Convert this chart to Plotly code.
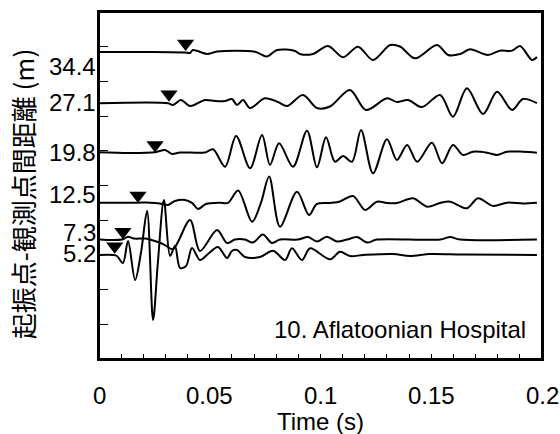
import plotly.graph_objects as go

# offsets (m) of each geophone from the source, and their labels
distances = [5.2, 7.3, 12.5, 19.8, 27.1, 34.4]
dist_labels = ["5.2", "7.3", "12.5", "19.8", "27.1", "34.4"]
# picked first arrivals (s), the black triangles
arrivals = [0.0071, 0.0108, 0.0176, 0.0253, 0.0316, 0.0391]

# waveforms: time (s) and trace deflection (axis units)
t_5_2 = [0, 0.0063, 0.0081, 0.0108, 0.0131, 0.0163, 0.0190, 0.0217, 0.0244, 0.0266,
         0.0293, 0.0321, 0.0343, 0.0366, 0.0393, 0.0420, 0.0456, 0.0492, 0.0537, 0.0578,
         0.0600, 0.0623, 0.0659, 0.0727, 0.0786, 0.0840, 0.0871, 0.0916, 0.0953, 0.1043,
         0.1088, 0.1133, 0.1192, 0.1327, 0.1404, 0.1494, 0.1643, 0.1977]
a_5_2 = [-0.22, -0.22, -0.36, -1.37, 1.80, -3.82, 0.22, 6.12, -9.58, -1.22,
         7.71, -0.36, 1.08, -2.09, -1.80, 0.79, -0.94, -0.07, 0.94, -0.65,
         0.36, 0.50, -0.50, -0.50, 0.40, -0.94, 0.75, -0.94, 0.75, -0.84,
         0.26, -0.36, -0.22, -0.07, -0.36, -0.07, -0.14, -0.22]

t_7_3 = [0, 0.0104, 0.0131, 0.0158, 0.0208, 0.0230, 0.0266, 0.0298, 0.0334, 0.0411,
         0.0456, 0.0533, 0.0578, 0.0614, 0.0659, 0.0695, 0.0740, 0.0781, 0.0817, 0.0898,
         0.0944, 0.0984, 0.1029, 0.1074, 0.1120, 0.1165, 0.1210, 0.1255, 0.1540, 0.1585,
         0.1630, 0.1977]
a_7_3 = [-0.09, -0.09, 0.32, 0.06, 0.06, -0.09, -0.45, -0.88, -1.46, 2.72,
         -1.74, 1.28, -0.59, -0.09, -0.09, -0.52, 0.63, -0.59, -0.09, -0.09,
         0.27, -0.37, 0.32, -0.37, -0.09, 0.27, -0.52, -0.09, -0.09, 0.27,
         -0.09, -0.09]

t_12_5 = [0, 0.0176, 0.0230, 0.0275, 0.0312, 0.0343, 0.0388, 0.0420, 0.0447, 0.0483,
          0.0546, 0.0582, 0.0628, 0.0691, 0.0731, 0.0768, 0.0817, 0.0894, 0.0948, 0.0984,
          0.1043, 0.1088, 0.1147, 0.1201, 0.1255, 0.1300, 0.1345, 0.1418, 0.1481, 0.1540,
          0.1585, 0.1661, 0.1711, 0.1779, 0.1842, 0.1914, 0.1977]
a_12_5 = [0.03, 0.03, 0.03, -0.09, -0.30, 0.27, 0.42, -0.01, -0.88, -0.16,
          0.03, -0.01, 1.79, -2.71, -0.01, 3.80, -3.43, 1.61, -1.74, -0.16,
          -0.01, 0.20, 0.99, -1.02, 0.17, -0.01, -0.01, 0.66, -0.55, -0.01,
          0.17, -0.78, 0.66, -0.45, 0.03, -0.09, 0.03]

t_19_8 = [0, 0.0140, 0.0253, 0.0298, 0.0330, 0.0366, 0.0479, 0.0515, 0.0569, 0.0619,
          0.0682, 0.0736, 0.0772, 0.0813, 0.0876, 0.0939, 0.0984, 0.1025, 0.1065, 0.1102,
          0.1142, 0.1183, 0.1237, 0.1300, 0.1345, 0.1391, 0.1436, 0.1503, 0.1549, 0.1598,
          0.1643, 0.1689, 0.1752, 0.1797, 0.1842, 0.1914, 0.1977]
a_19_8 = [-0.01, -0.12, -0.01, 0.32, -0.26, -0.04, -0.04, 0.42, -2.09, 2.33,
          -2.32, 2.48, -1.84, 1.28, -2.09, 3.10, -2.18, 2.15, -1.37, -0.55,
          -1.37, 3.20, -3.04, 1.86, -1.12, 1.04, -1.37, 1.37, -1.60, 1.04,
          -0.40, 0.07, -0.07, -0.40, 0.07, 0.07, -0.07]

t_27_1 = [0, 0.0312, 0.0334, 0.0370, 0.0411, 0.0479, 0.0524, 0.0569, 0.0600, 0.0623,
          0.0650, 0.0682, 0.0749, 0.0808, 0.0849, 0.0921, 0.0984, 0.1043, 0.1133, 0.1205,
          0.1300, 0.1345, 0.1395, 0.1458, 0.1540, 0.1598, 0.1661, 0.1734, 0.1797, 0.1865,
          0.1914, 0.1977]
a_27_1 = [-0.26, -0.26, -0.50, 0.22, -0.65, 0.22, 0.07, 0.07, 0.36, -0.50,
          0.22, -0.94, 0.46, -0.07, -0.65, 0.94, -0.94, -0.72, 1.66, -1.22,
          0.46, -0.07, 0.22, -0.79, 0.94, -2.19, 1.90, -1.80, 1.41, -1.22,
          0.36, -0.22]

t_34_4 = [0, 0.0230, 0.0388, 0.0411, 0.0424, 0.0488, 0.0533, 0.0704, 0.0758, 0.0804,
          0.0885, 0.0907, 0.0966, 0.1034, 0.1102, 0.1169, 0.1237, 0.1314, 0.1359, 0.1427,
          0.1526, 0.1576, 0.1630, 0.1675, 0.1756, 0.1810, 0.1865, 0.1901, 0.1955, 0.1977]
a_34_4 = [-0.16, -0.16, -0.23, -0.30, 0.13, -0.45, -0.09, -0.12, -0.81, 0.13,
          -0.01, -0.45, -0.45, 0.71, -0.92, 0.61, -1.31, 0.85, 0.63, -1.07,
          0.85, -0.59, -0.45, 0.23, -0.59, 0.03, 0.03, 0.71, -1.31, -0.88]

waves = [(t_5_2, a_5_2), (t_7_3, a_7_3), (t_12_5, a_12_5),
         (t_19_8, a_19_8), (t_27_1, a_27_1), (t_34_4, a_34_4)]

x_tickvals = [0, 0.05, 0.1, 0.15, 0.2]
x_ticktext = ["0", "0.05", "0.1", "0.15", "0.2"]
x_minor = [i / 100 for i in range(21)]
y_ticks = list(range(-10, 41, 5))

FONT = "Arial, Liberation Sans, sans-serif"
MARK_LIFT = 1.05       # triangle sits just above its trace
label_shift = [0, 6, 8, 0, -1, -16]   # px nudges of the distance labels

fig = go.Figure()

for d, (t, a) in zip(distances, waves):
    fig.add_trace(go.Scatter(
        x=t, y=[d + v for v in a], mode="lines",
        line=dict(color="black", width=2, shape="spline", smoothing=0.9),
        hoverinfo="skip", showlegend=False))

fig.add_trace(go.Scatter(
    x=arrivals, y=[d + MARK_LIFT for d in distances], mode="markers",
    marker=dict(symbol="triangle-down", size=15, color="black"),
    showlegend=False))

# distance labels beside the traces
for d, lab, sh in zip(distances, dist_labels, label_shift):
    fig.add_annotation(x=0, xref="paper", y=d, yref="y", text=lab,
                       showarrow=False, xanchor="right", xshift=-1, yshift=sh,
                       font=dict(family=FONT, size=24, color="black"))

# time tick labels sit well below the axis
for v, lab in zip(x_tickvals, x_ticktext):
    fig.add_annotation(x=v, xref="x", y=0, yref="paper", text=lab,
                       showarrow=False, xanchor="center", yanchor="middle",
                       yshift=-36, font=dict(family=FONT, size=24, color="black"))

fig.add_annotation(x=0.968, xref="paper", y=0.084, yref="paper",
                   text="10. Aflatoonian Hospital", showarrow=False,
                   xanchor="right", yanchor="middle",
                   font=dict(family=FONT, size=24, color="black"))

fig.add_annotation(x=0.5, xref="paper", y=0, yref="paper",
                   text="Time (s)", showarrow=False,
                   xanchor="center", yanchor="middle", yshift=-62,
                   font=dict(family=FONT, size=24, color="black"))

fig.add_annotation(x=-0.172, xref="paper", y=0.477, yref="paper",
                   text="起振点-観測点間距離 (m)", textangle=-90, showarrow=False,
                   xanchor="center", yanchor="middle",
                   font=dict(family="Noto Sans CJK JP", size=26, color="black"))

# frame round the plot area
fig.add_shape(type="rect", xref="paper", yref="paper", x0=0, y0=0, x1=1, y1=1,
              line=dict(color="black", width=2), layer="above")

fig.update_layout(
    width=560, height=434,
    margin=dict(l=99, r=18, t=12, b=75, autoexpand=False),
    paper_bgcolor="white", plot_bgcolor="white",
    font=dict(family=FONT, size=24, color="black"),
    xaxis=dict(range=[0, 0.2], tickvals=x_minor, ticks="inside", ticklen=5,
               tickwidth=1, tickcolor="black", showticklabels=False,
               showline=True, linewidth=2, linecolor="black", mirror=True,
               showgrid=False, zeroline=False),
    xaxis2=dict(range=[0, 0.2], overlaying="x", anchor="y", side="bottom",
                tickvals=x_tickvals, ticks="inside", ticklen=8, tickwidth=1,
                tickcolor="black", showticklabels=False, showline=False,
                showgrid=False, zeroline=False),
    yaxis=dict(range=[-10, 40], tickvals=y_ticks,
               ticks="inside", ticklen=9, tickwidth=1, tickcolor="black",
               showticklabels=False,
               showline=True, linewidth=2, linecolor="black", mirror=True,
               showgrid=False, zeroline=False),
)

fig.write_html("out.html", config={"displayModeBar": False},
               post_script="document.body.style.margin='0';")
